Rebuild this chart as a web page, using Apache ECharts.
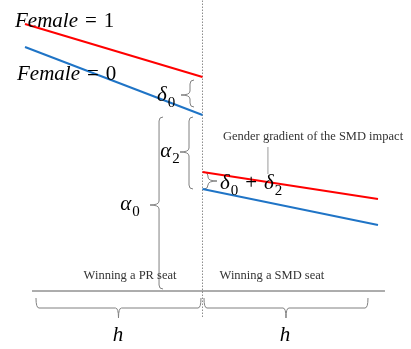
<!DOCTYPE html>
<html>
<head>
<meta charset="utf-8">
<script src="https://cdn.jsdelivr.net/npm/echarts@6/dist/echarts.min.js"></script>
<style>html,body{margin:0;padding:0;background:#fff}#c{width:411px;height:349px}</style>
</head>
<body>
<div id="c"></div>
<script>
// Running variable (distance from cutoff, in bandwidth units h) and outcome values
const xLeft = [-1.066, 0];
const xRight = [0, 1.054];
const femaleLeft = [2.67, 2.14];
const maleLeft = [2.44, 1.76];
const femaleRight = [1.19, 0.92];
const maleRight = [1.02, 0.66];

// Annotation braces: [x, yTop, yBottom, yTip, direction]
const vBraces = [
  [-0.261, 1.74, 0.02, 0.86, -1],   // alpha0
  [-0.081, 1.74, 1.02, 1.39, -1],   // alpha2
  [-0.075, 2.11, 1.84, 1.96, -1],   // delta0
  [0.033, 1.19, 1.02, 1.10, 1]      // delta0 + delta2
];
// Bandwidth braces: [xStart, xEnd, y]
const hBraces = [
  [-1, -0.009, -0.07],
  [0.009, 0.994, -0.07]
];
// Labels: [x, y, key]
const labels = [
  [-1.126, 2.69, 'f1'],
  [-1.114, 2.16, 'f0'],
  [-0.219, 1.95, 'd0'],
  [-0.195, 1.39, 'a2'],
  [-0.435, 0.86, 'a0'],
  [0.105, 1.07, 'd0d2'],
  [0.123, 1.54, 'grad'],
  [-0.435, 0.15, 'pr'],
  [0.417, 0.15, 'smd'],
  [-0.508, -0.45, 'h'],
  [0.495, -0.45, 'h']
];

const mathRich = {
  it: {fontFamily: 'Liberation Serif', fontStyle: 'italic', fontSize: 21, lineHeight: 22, verticalAlign: 'top', color: '#111'},
  up: {fontFamily: 'Liberation Serif', fontSize: 21, lineHeight: 22, verticalAlign: 'top', color: '#111'},
  sub: {fontFamily: 'Liberation Serif', fontSize: 15, lineHeight: 15, padding: [11, 0, 0, 1], verticalAlign: 'top', color: '#111'}
};
const sp = ' \u200A';
const labelText = {
  f1: {text: '{it|Female}{up|' + sp + '=' + sp + '1}', align: 'left'},
  f0: {text: '{it|Female}{up|' + sp + '=' + sp + '0}', align: 'left'},
  d0: {text: '{it|δ}{sub|0}', align: 'center'},
  a2: {text: '{it|α}{sub|2}', align: 'center'},
  a0: {text: '{it|α}{sub|0}', align: 'center'},
  d0d2: {text: '{it|δ}{sub|0}{up|' + sp + '+' + sp + '}{it|δ}{sub|2}', align: 'left'},
  h: {text: '{it|h}', align: 'center'},
  grad: {plain: 'Gender gradient of the SMD impact', align: 'left'},
  pr: {plain: 'Winning a PR seat', align: 'center'},
  smd: {plain: 'Winning a SMD seat', align: 'center'}
};

function pairs(xs, ys) { return xs.map((x, i) => [x, ys[i]]); }

const chart = echarts.init(document.getElementById('c'));
const red = '#ff0000', blue = '#1f74c6', gray = '#808080';

chart.setOption({
  animation: false,
  grid: {left: 0, top: 0, width: 411, height: 349, containLabel: false},
  xAxis: {type: 'value', min: -1.2162, max: 1.2523, show: false},
  yAxis: {type: 'value', min: -0.58, max: 2.91, show: false},
  series: [
    {type: 'line', data: [[0, -0.26], [0, 2.91]], symbol: 'none', lineStyle: {color: '#8c8c8c', width: 1, type: [1.5, 1.5]}, z: 1},
    {type: 'line', data: [[-1.024, 0], [1.096, 0]], symbol: 'none', lineStyle: {color: '#5a5a5a', width: 1}, z: 1},
    {type: 'line', data: [[0.393, 1.44], [0.393, 1.17]], symbol: 'none', lineStyle: {color: '#9a9a9a', width: 1}, z: 1},
    {type: 'line', data: pairs(xLeft, femaleLeft), symbol: 'none', lineStyle: {color: red, width: 2}, z: 3},
    {type: 'line', data: pairs(xLeft, maleLeft), symbol: 'none', lineStyle: {color: blue, width: 2}, z: 3},
    {type: 'line', data: pairs(xRight, femaleRight), symbol: 'none', lineStyle: {color: red, width: 2}, z: 3},
    {type: 'line', data: pairs(xRight, maleRight), symbol: 'none', lineStyle: {color: blue, width: 2}, z: 3},
    {
      type: 'custom', data: vBraces, z: 2, silent: true,
      renderItem: function (params, api) {
        const top = api.coord([api.value(0), api.value(1)]);
        const bot = api.coord([api.value(0), api.value(2)]);
        const tip = api.coord([api.value(0), api.value(3)]);
        const d = api.value(4);
        const x = top[0], yt = top[1], yb = bot[1], ym = tip[1];
        const h = -4 * d, t = 9 * d, r = 4;
        const p = `M${x + h},${yt} Q${x},${yt} ${x},${yt + r} L${x},${ym - r} Q${x},${ym} ${x + t},${ym} Q${x},${ym} ${x},${ym + r} L${x},${yb - r} Q${x},${yb} ${x + h},${yb}`;
        return {type: 'path', shape: {pathData: p}, style: {fill: null, stroke: gray, lineWidth: 1}};
      }
    },
    {
      type: 'custom', data: hBraces, z: 2, silent: true,
      renderItem: function (params, api) {
        const a = api.coord([api.value(0), api.value(2)]);
        const b = api.coord([api.value(1), api.value(2)]);
        const y = a[1], xl = a[0], xr = b[0], xm = (xl + xr) / 2;
        const hh = 10, t = 10, r = 3;
        const yl = y + hh;
        const p = `M${xl},${y} Q${xl},${yl} ${xl + r},${yl} L${xm - r},${yl} Q${xm},${yl} ${xm},${yl + t} Q${xm},${yl} ${xm + r},${yl} L${xr - r},${yl} Q${xr},${yl} ${xr},${y}`;
        return {type: 'path', shape: {pathData: p}, style: {fill: null, stroke: gray, lineWidth: 1}};
      }
    },
    {
      type: 'custom', data: labels.map(l => [l[0], l[1], l[2]]), z: 5, silent: true,
      dimensions: ['x', 'y', {name: 'k', type: 'ordinal'}],
      renderItem: function (params, api) {
        const item = labels[params.dataIndex];
        const pt = api.coord([item[0], item[1]]);
        const def = labelText[item[2]];
        if (def.plain) {
          return {type: 'text', x: pt[0], y: pt[1], style: {text: def.plain, fontFamily: 'Liberation Serif', fontSize: 12.5, fill: '#333', align: def.align, verticalAlign: 'middle'}};
        }
        return {type: 'text', x: pt[0], y: pt[1], style: {text: def.text, rich: mathRich, align: def.align, verticalAlign: 'middle'}};
      }
    }
  ]
});
</script>
</body>
</html>
